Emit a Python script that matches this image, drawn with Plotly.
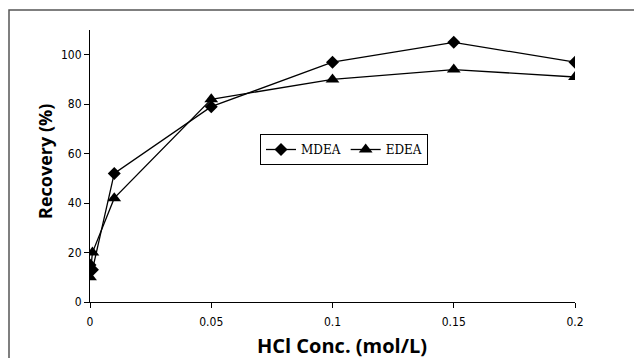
import plotly.graph_objects as go

hcl_conc = [0, 0.001, 0.01, 0.05, 0.1, 0.15, 0.2]
mdea = [15, 13, 52, 79, 97, 105, 97]
edea = [10, 20, 42, 82, 90, 94, 91]
x_ticks = [0, 0.05, 0.1, 0.15, 0.2]
x_tick_labels = ["0", "0.05", "0.1", "0.15", "0.2"]
y_ticks = [0, 20, 40, 60, 80, 100]

fig = go.Figure()
fig.add_trace(go.Scatter(x=hcl_conc, y=mdea, name="MDEA", mode="lines+markers",
                         line=dict(color="black", width=1.3),
                         marker=dict(symbol="diamond", size=10, color="black")))
fig.add_trace(go.Scatter(x=hcl_conc, y=edea, name="EDEA", mode="lines+markers",
                         line=dict(color="black", width=1.3),
                         marker=dict(symbol="triangle-up", size=12, color="black")))

tickfont = dict(family="Liberation Sans Narrow, DejaVu Sans Condensed, sans-serif", size=12, color="black")
fig.update_layout(
    width=634, height=358,
    margin=dict(l=90, r=59, t=30, b=56),
    paper_bgcolor="white", plot_bgcolor="white",
    showlegend=True,
    legend=dict(orientation="h", x=(260 - 90) / 485, y=(302 - 134) / 272, xanchor="left", yanchor="top",
                bordercolor="black", borderwidth=1, bgcolor="white",
                font=dict(family="DejaVu Serif, serif", size=12, color="black"),
                itemwidth=30, tracegroupgap=0),
    xaxis=dict(range=[0, 0.2], tickvals=x_ticks, ticktext=x_tick_labels,
               showgrid=False, zeroline=False, showline=True, linecolor="black", linewidth=1,
               ticks="outside", ticklen=5, tickcolor="black", tickfont=tickfont,
               ticklabelstandoff=4),
    yaxis=dict(range=[0, 110], tickvals=y_ticks, showgrid=False, zeroline=False,
               showline=True, linecolor="black", linewidth=1,
               ticks="outside", ticklen=5, tickcolor="black", tickfont=tickfont),
    annotations=[
        dict(text="<b>HCl Conc. (mol/L)</b>", xref="paper", yref="paper",
             x=(342 - 90) / 485, y=(302 - 345) / 272, xanchor="center", yanchor="middle",
             showarrow=False, font=dict(family="Open Sans, sans-serif", size=20, color="black")),
        dict(text="<b>Recovery (%)</b>", xref="paper", yref="paper", textangle=-90,
             x=(45 - 90) / 485, y=(302 - 162) / 272, xanchor="center", yanchor="middle",
             showarrow=False, font=dict(family="Open Sans, sans-serif", size=18, color="black")),
    ],
    shapes=[dict(type="rect", xref="paper", yref="paper",
                 x0=(9 - 90) / 485, x1=1.3, y0=-0.5, y1=(302 - 10) / 272,
                 line=dict(color="#555555", width=1.5), layer="below")],
)

fig.write_html("out.html", config={"displayModeBar": False},
               post_script="document.body.style.margin='0';")
